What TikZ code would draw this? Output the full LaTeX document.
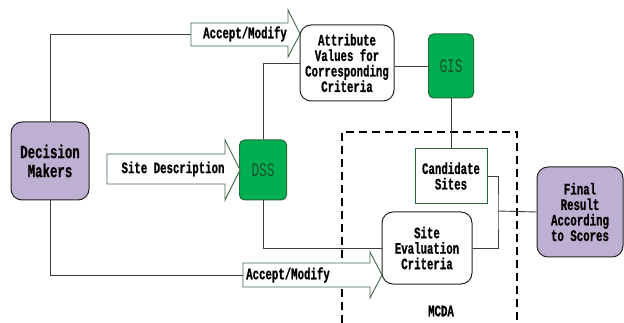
\documentclass[tikz,border=0pt]{standalone}
\usepackage{fontspec}
\newfontfamily\diagfont[FakeStretch=0.67,BoldFeatures={FakeBold=0.8}]{Liberation Mono}
\definecolor{dmpurple}{RGB}{190,176,210}
\definecolor{sysgreen}{RGB}{0,176,80}
\definecolor{sysline}{RGB}{40,105,60}
\definecolor{systext}{RGB}{25,80,45}
\definecolor{arrline}{RGB}{70,105,75}
\definecolor{boxline}{RGB}{35,35,35}
\definecolor{wire}{RGB}{60,60,60}

\begin{document}
\begin{tikzpicture}[x=1pt,y=-1pt,
    txt/.style={font=\diagfont\bfseries\fontsize{16}{15.5}\selectfont,align=center,inner sep=0pt},
    box/.style={txt,draw=boxline,line width=1pt,rounded corners=11pt},
    actor/.style={box,fill=dmpurple},
    sysbox/.style={draw=sysline,line width=1pt,fill=sysgreen,rounded corners=5pt,inner sep=0pt,
        text=systext,font=\diagfont\fontsize{19}{19}\selectfont},
    blockarrow/.style={draw=arrline,line width=0.9pt,fill=white,line join=miter},
    wire/.style={draw=wire,line width=0.9pt}]
    \useasboundingbox (0,0) rectangle (624,323);

    % MCDA frame
    \draw[line width=1.2pt,dash pattern=on 8pt off 5pt] (342,323) -- (342,132) -- (517,132) -- (517,323);
    \node[txt] (mcda) at (441,311) {MCDA};

    % boxes
    \node[actor,minimum width=78pt,minimum height=78pt,font=\diagfont\bfseries\fontsize{18.5}{19}\selectfont] (dm) at (50,161) {Decision\\Makers};
    \node[box,minimum width=94pt,minimum height=76pt] (attr) at (347,63) {Attribute\\Values for\\Corresponding\\Criteria};
    \node[sysbox,minimum width=45pt,minimum height=64pt] (gis) at (451,66) {GIS};
    \node[sysbox,minimum width=47pt,minimum height=60pt] (dss) at (263,170) {DSS};
    \node[txt,draw=sysline,line width=1pt,minimum width=72pt,minimum height=55pt] (cand) at (451,176) {Candidate\\Sites};
    \node[box,minimum width=90pt,minimum height=72pt] (crit) at (427,248) {Site\\Evaluation\\Criteria};
    \node[actor,minimum width=86pt,minimum height=90pt] (final) at (580,212) {Final\\Result\\According\\to Scores};

    % block arrows
    \draw[blockarrow] (191,23) -- (288,23) -- (288,10) -- (300,34) -- (288,57) -- (288,46) -- (191,46) -- cycle;
    \node[txt] (accept1) at (245,34) {Accept/Modify};
    \coordinate (accept1in) at (191,34);
    \draw[blockarrow] (107,154) -- (225,154) -- (225,140) -- (240,170) -- (225,200) -- (225,184) -- (107,184) -- cycle;
    \node[txt] (sitedesc) at (173,169) {Site Description};
    \draw[blockarrow] (243,263) -- (370,263) -- (370,252) -- (382,275) -- (370,298) -- (370,287) -- (243,287) -- cycle;
    \node[txt] (accept2) at (288,275) {Accept/Modify};
    \coordinate (accept2in) at (243,275);

    % connectors
    \draw[wire] (dm.north) |- (accept1in);
    \draw[wire] (dm.south) |- (accept2in);
    \draw[wire] (attr.west) -| (dss.north);
    \draw[wire] (attr.east |- gis.west) -- (gis.west);
    \draw[wire] (gis.south) -- (cand.north);
    \draw[wire] (dss.south) |- (crit.west);
    \coordinate (join) at (498,211);
    \draw[wire] (cand.east) -| (join) |- (crit.east);
    \draw[wire] (join) -- (final.west);
\end{tikzpicture}
\end{document}
